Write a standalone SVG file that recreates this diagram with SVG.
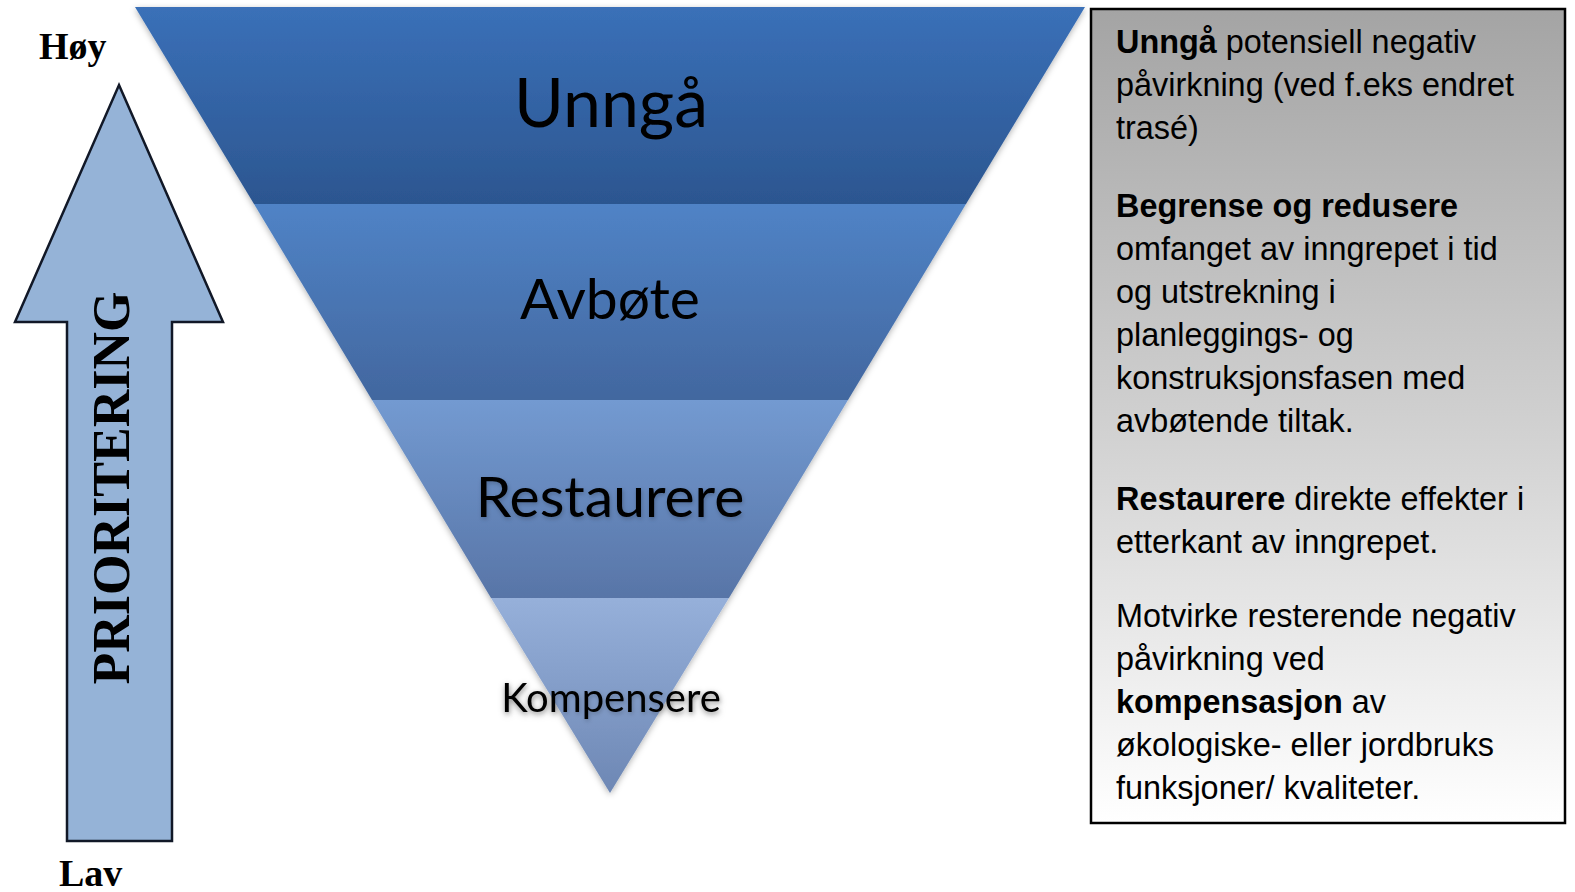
<svg xmlns="http://www.w3.org/2000/svg" width="1575" height="892" viewBox="0 0 1575 892">
<style>
.serifb{font-family:"Liberation Serif","Times New Roman",serif;font-weight:bold;fill:#000}
.lbl{font-family:Lato,"Noto Sans",sans-serif;fill:#000;text-anchor:middle}
.body{font-family:"Liberation Sans",Arial,sans-serif;font-size:32.4px;fill:#000}
.b{font-weight:bold}
</style>
<defs>
<linearGradient id="g1" x1="0" y1="0" x2="0" y2="1"><stop offset="0" stop-color="#3a70b8"/><stop offset="1" stop-color="#2c5690"/></linearGradient>
<linearGradient id="g2" x1="0" y1="0" x2="0" y2="1"><stop offset="0" stop-color="#5083c6"/><stop offset="1" stop-color="#42679f"/></linearGradient>
<linearGradient id="g3" x1="0" y1="0" x2="0" y2="1"><stop offset="0" stop-color="#739ad1"/><stop offset="1" stop-color="#5875a7"/></linearGradient>
<linearGradient id="g4" x1="0" y1="0" x2="0" y2="1"><stop offset="0" stop-color="#96b0da"/><stop offset="1" stop-color="#6d87b4"/></linearGradient>
<linearGradient id="gbox" x1="0" y1="0" x2="0" y2="1"><stop offset="0" stop-color="#a4a4a4"/><stop offset="0.55" stop-color="#d4d4d4"/><stop offset="1" stop-color="#ffffff"/></linearGradient>
<filter id="sh" x="-10%" y="-10%" width="120%" height="120%"><feDropShadow dx="0" dy="2" stdDeviation="3" flood-color="#000" flood-opacity="0.3"/></filter>
<filter id="tsh" x="-10%" y="-30%" width="120%" height="160%"><feDropShadow dx="1" dy="2" stdDeviation="2" flood-color="#000" flood-opacity="0.22"/></filter>
</defs>

<g id="priority-arrow">
<polygon points="119,85 223,322 172,322 172,841 67,841 67,322 15,322" fill="#95b3d7" stroke="#111827" stroke-width="2.5" stroke-linejoin="miter"/>
<text class="serifb" font-size="52" text-anchor="middle" transform="translate(129,488) rotate(-90)">PRIORITERING</text>
</g>
<g id="label-hoy"><text class="serifb" font-size="38" x="39" y="59">Høy</text></g>
<g id="label-lav"><text class="serifb" font-size="38" x="59" y="886">Lav</text></g>

<g id="funnel" filter="url(#sh)">
<g id="band-unnga">
<polygon points="135,7 1085,7 966,204 254,204" fill="url(#g1)"/>
<text class="lbl" font-size="68" x="611" y="127">Unngå</text>
</g>
<g id="band-avbote">
<polygon points="254,204 966,204 848,400 372,400" fill="url(#g2)"/>
<text class="lbl" font-size="57" x="610" y="319">Avbøte</text>
</g>
<g id="band-restaurere">
<polygon points="372,400 848,400 729,598 491,598" fill="url(#g3)"/>
<text class="lbl" font-size="57" x="610" y="517" filter="url(#tsh)">Restaurere</text>
</g>
<g id="band-kompensere">
<polygon points="491,598 729,598 610,793" fill="url(#g4)"/>
<text class="lbl" font-size="40" x="611" y="712" filter="url(#tsh)">Kompensere</text>
</g>
</g>

<g id="description-box">
<rect x="1091" y="9" width="474" height="814" fill="url(#gbox)" stroke="#000" stroke-width="2.5"/>
<text class="body" x="1116" y="53"><tspan class="b">Unngå</tspan> potensiell negativ</text>
<text class="body" x="1116" y="96">påvirkning (ved f.eks endret</text>
<text class="body" x="1116" y="139">trasé)</text>
<text class="body b" x="1116" y="217">Begrense og redusere</text>
<text class="body" x="1116" y="260">omfanget av inngrepet i tid</text>
<text class="body" x="1116" y="303">og utstrekning i</text>
<text class="body" x="1116" y="346">planleggings- og</text>
<text class="body" x="1116" y="389">konstruksjonsfasen med</text>
<text class="body" x="1116" y="432">avbøtende tiltak.</text>
<text class="body" x="1116" y="510"><tspan class="b">Restaurere</tspan> direkte effekter i</text>
<text class="body" x="1116" y="553">etterkant av inngrepet.</text>
<text class="body" x="1116" y="627">Motvirke resterende negativ</text>
<text class="body" x="1116" y="670">påvirkning ved</text>
<text class="body" x="1116" y="713"><tspan class="b">kompensasjon</tspan> av</text>
<text class="body" x="1116" y="756">økologiske- eller jordbruks</text>
<text class="body" x="1116" y="799">funksjoner/ kvaliteter.</text>
</g>
</svg>
